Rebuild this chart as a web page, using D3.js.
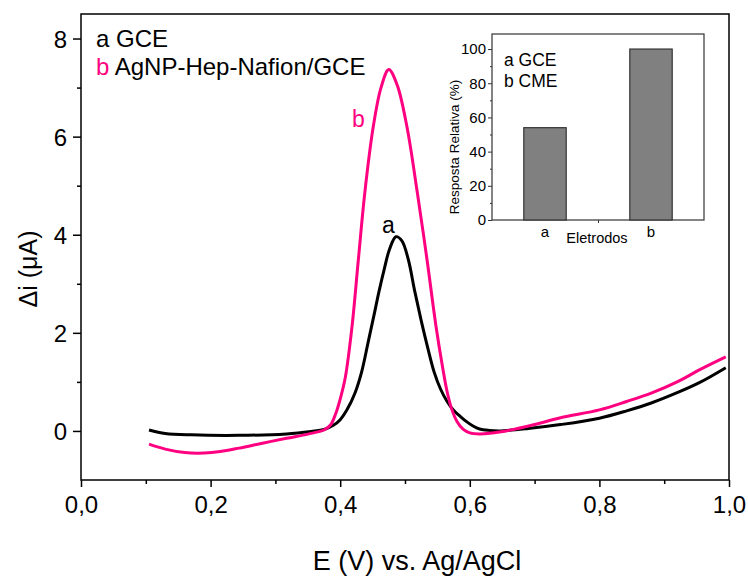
<!DOCTYPE html>
<html lang="pt">
<head>
<meta charset="UTF-8">
<title>DPV AgNP-Hep-Nafion/GCE</title>
<style>
    * { margin: 0; padding: 0 }
    body { background: #fff; }
    svg text { font-family: "Liberation Sans", Arial, sans-serif; }
</style>
</head>
<body>
<div id="main"></div>
<script src="https://d3js.org/d3.v7.min.js"></script>
<script>
    // curva a - GCE
    const potA = [0.105, 0.13, 0.17, 0.244, 0.317, 0.355, 0.375, 0.39, 0.40, 0.41, 0.423, 0.433, 0.443, 0.452,
        0.46, 0.468, 0.476, 0.486, 0.495, 0.505, 0.515, 0.525, 0.535, 0.545, 0.555, 0.565, 0.575, 0.585, 0.595,
        0.605, 0.615, 0.63, 0.645, 0.69, 0.74, 0.80, 0.842, 0.88, 0.92, 0.955, 0.995];
    const currA = [0.02, -0.05, -0.08, -0.09, -0.06, -0.01, 0.03, 0.12, 0.23, 0.42, 0.78, 1.2, 1.8, 2.35,
        2.85, 3.3, 3.7, 3.96, 3.88, 3.5, 2.85, 2.25, 1.7, 1.2, 0.85, 0.6, 0.42, 0.3, 0.19,
        0.1, 0.04, 0.01, 0.0, 0.05, 0.13, 0.26, 0.41, 0.57, 0.78, 0.99, 1.29];

    // curva b - AgNP-Hep-Nafion/GCE
    const potB = [0.105, 0.13, 0.16, 0.19, 0.215, 0.244, 0.28, 0.317, 0.345, 0.362, 0.375, 0.385, 0.393, 0.40,
        0.408, 0.418, 0.428, 0.438, 0.451, 0.463, 0.475, 0.488, 0.503, 0.519, 0.534, 0.548, 0.558, 0.565, 0.572,
        0.58, 0.59, 0.60, 0.615, 0.635, 0.656, 0.70, 0.74, 0.80, 0.842, 0.88, 0.92, 0.955, 0.995];
    const currB = [-0.27, -0.37, -0.44, -0.45, -0.42, -0.35, -0.25, -0.15, -0.08, -0.03, 0.02, 0.12, 0.35, 0.65,
        1.1, 2.1, 3.49, 4.86, 6.2, 7.0, 7.37, 7.05, 6.2, 4.86, 3.49, 2.12, 1.3, 0.8, 0.45,
        0.2, 0.03, -0.04, -0.06, -0.04, 0.0, 0.13, 0.27, 0.43, 0.6, 0.77, 1.0, 1.25, 1.51];

    const xTicks = [0, 0.2, 0.4, 0.6, 0.8, 1.0];
    const xMinor = [0.1, 0.3, 0.5, 0.7, 0.9];
    const yTicks = [0, 2, 4, 6, 8];
    const yMinor = [1, 3, 5, 7];

    // inset
    const eletrodos = ['a', 'b'];
    const resposta = [54, 100];
    const insetTicks = [0, 20, 40, 60, 80, 100];
    const insetMinor = [10, 30, 50, 70, 90];

    const pink = '#ff0080';

    let svg = d3.select('#main').append('svg')
        .attr('width', 748)
        .attr('height', 576)
        .style('background-color', '#fff');

    let x = d3.scaleLinear().domain([0, 1]).range([81, 729]),
        y = d3.scaleLinear().domain([-1, 8.5]).range([480, 14]);

    // eixos
    let fmt = d => d3.format('.1f')(d).replace('.', ',');
    let gx = svg.append('g').attr('transform', 'translate(0,480)')
        .call(d3.axisBottom(x).tickValues(xTicks).tickSize(7).tickFormat(fmt));
    gx.selectAll('text').attr('y', 33).attr('dy', 0).style('font-size', '24px').attr('fill', '#000');
    svg.append('g').attr('transform', 'translate(0,480)')
        .call(d3.axisBottom(x).tickValues(xMinor).tickSize(4).tickFormat(''));

    let gy = svg.append('g').attr('transform', 'translate(81,0)')
        .call(d3.axisLeft(y).tickValues(yTicks).tickSize(8).tickPadding(6));
    gy.selectAll('text').style('font-size', '24px').attr('dy', '0.36em').attr('fill', '#000');
    svg.append('g').attr('transform', 'translate(81,0)')
        .call(d3.axisLeft(y).tickValues(yMinor).tickSize(4).tickFormat(''));

    svg.selectAll('.domain').remove();
    svg.selectAll('.tick line').attr('stroke', '#000').attr('stroke-width', 1.5);

    svg.append('rect')
        .attr('x', 81).attr('y', 14).attr('width', 648).attr('height', 466)
        .attr('fill', 'none').attr('stroke', '#000').attr('stroke-width', 1.5);

    // curvas
    let line = d3.line()
        .x(d => x(d[0]))
        .y(d => y(d[1]))
        .curve(d3.curveCatmullRom.alpha(0.5));

    let series = [
        { pts: d3.zip(potA, currA), color: '#000' },
        { pts: d3.zip(potB, currB), color: pink }
    ];
    svg.selectAll('path.curve')
        .data(series)
        .enter()
        .append('path')
        .classed('curve', true)
        .attr('fill', 'none')
        .attr('stroke', d => d.color)
        .attr('stroke-width', 3)
        .attr('stroke-linejoin', 'round')
        .attr('d', d => line(d.pts));

    // rótulos
    svg.append('text').attr('x', 417).attr('y', 570).attr('text-anchor', 'middle')
        .style('font-size', '27px').text('E (V) vs. Ag/AgCl');
    svg.append('text').attr('transform', 'translate(37,269) rotate(-90)').attr('text-anchor', 'middle')
        .style('font-size', '25px').text('\u0394i (\u03bcA)');

    let leg = svg.append('g').style('font-size', '24px');
    leg.append('text').attr('x', 96).attr('y', 47).text('a GCE');
    let lb = leg.append('text').attr('x', 96).attr('y', 75);
    lb.append('tspan').attr('fill', pink).text('b');
    lb.append('tspan').text(' AgNP-Hep-Nafion/GCE');

    svg.append('text').attr('x', 352).attr('y', 127).attr('fill', pink).style('font-size', '23px').text('b');
    svg.append('text').attr('x', 382).attr('y', 233).style('font-size', '23px').text('a');

    // gráfico inserido
    let ix = d3.scaleLinear().domain([0.5, 2.5]).range([492, 704]),
        iy = d3.scaleLinear().domain([0, 108.8]).range([220, 34]);

    let inset = svg.append('g');
    inset.append('rect')
        .attr('x', 492).attr('y', 34).attr('width', 212).attr('height', 186)
        .attr('fill', '#fff').attr('stroke', '#333').attr('stroke-width', 1.2);

    inset.selectAll('rect.bar')
        .data(resposta)
        .enter()
        .append('rect')
        .classed('bar', true)
        .attr('x', (d, i) => ix(i + 1 - 0.2))
        .attr('width', ix(1.2) - ix(0.8))
        .attr('y', d => iy(d))
        .attr('height', d => iy(0) - iy(d))
        .attr('fill', '#808080')
        .attr('stroke', '#333')
        .attr('stroke-width', 1.2);

    let iyAx = inset.append('g').attr('transform', 'translate(492,0)')
        .call(d3.axisLeft(iy).tickValues(insetTicks).tickSize(4).tickPadding(2));
    iyAx.selectAll('text').style('font-size', '15px').attr('fill', '#000');
    inset.append('g').attr('transform', 'translate(492,0)')
        .call(d3.axisLeft(iy).tickValues(insetMinor).tickSize(2).tickFormat(''));
    inset.append('g').attr('transform', 'translate(0,220)')
        .call(d3.axisBottom(ix).tickValues([1.5]).tickSize(3).tickFormat(''));
    inset.selectAll('.domain').remove();
    inset.selectAll('.tick line').attr('stroke', '#333');

    inset.selectAll('text.cat')
        .data(eletrodos)
        .enter()
        .append('text')
        .classed('cat', true)
        .attr('x', (d, i) => ix(i + 1))
        .attr('y', 237)
        .attr('text-anchor', 'middle')
        .style('font-size', '15px')
        .text(d => d);

    inset.append('text').attr('x', 597).attr('y', 243).attr('text-anchor', 'middle')
        .style('font-size', '14.5px').text('Eletrodos');
    inset.append('text').attr('transform', 'translate(459,147) rotate(-90)').attr('text-anchor', 'middle')
        .style('font-size', '13.5px').text('Resposta Relativa (%)');
    inset.append('text').attr('x', 504).attr('y', 66).style('font-size', '17.5px').text('a GCE');
    inset.append('text').attr('x', 504).attr('y', 87).style('font-size', '17.5px').text('b CME');
</script>
</body>
</html>
